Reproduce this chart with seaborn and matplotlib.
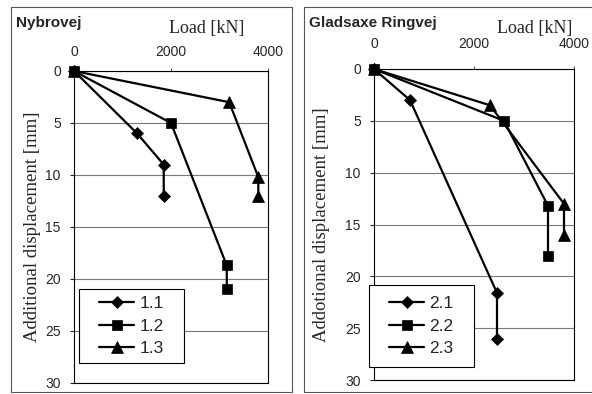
import matplotlib
matplotlib.use("Agg")
import matplotlib.pyplot as plt
import seaborn as sns
from matplotlib.patches import Rectangle

# ---- data ----
nyb_names = ["1.1", "1.2", "1.3"]
nyb_load = [[0, 1300, 1850, 1850],
            [0, 2000, 3150, 3150],
            [0, 3200, 3800, 3800]]
nyb_disp = [[0, 6, 9, 12],
            [0, 5, 18.7, 21],
            [0, 3, 10.2, 12]]

glad_names = ["2.1", "2.2", "2.3"]
glad_load = [[0, 720, 2460, 2460],
             [0, 2600, 3480, 3480],
             [0, 2320, 3800, 3800]]
glad_disp = [[0, 3, 21.6, 26],
             [0, 5, 13.2, 18],
             [0, 3.5, 13, 16]]

x_ticks = [0, 2000, 4000]
y_ticks = [0, 5, 10, 15, 20, 25, 30]

# ---- style ----
sns.set_style("white")
plt.rcParams["font.family"] = ["Liberation Sans", "DejaVu Sans"]
SERIF = ["Liberation Serif", "DejaVu Serif"]

W, H = 592, 394
fig = plt.figure(figsize=(W / 100, H / 100), dpi=100)


def fx(px):
    return px / W


def fy(py):
    return 1 - py / H


markers = ["D", "s", "^"]
msizes = [6.5, 7.5, 8]


def panel(l, r, t, b, names, loads, disps, xpad, leg_box):
    ax = fig.add_axes([fx(l), fy(b), fx(r) - fx(l), fy(t) - fy(b)])
    for name, xs, ys, m, ms in zip(names, loads, disps, markers, msizes):
        sns.lineplot(x=xs, y=ys, sort=False, estimator=None, marker=m,
                     markersize=ms, color="black", linewidth=1.6,
                     markeredgecolor="black", markeredgewidth=0.5,
                     label=name, ax=ax, zorder=3, clip_on=False)
    ax.set_xlim(0, 4000)
    ax.set_ylim(30, 0)
    ax.xaxis.tick_top()
    ax.set_xticks(x_ticks)
    ax.set_yticks(y_ticks)
    ax.set_xlabel("")
    ax.set_ylabel("")
    ax.yaxis.grid(True, color="#7a7a7a", linewidth=0.8)
    ax.xaxis.grid(False)
    for s in ax.spines.values():
        s.set_color("black")
        s.set_linewidth(0.8)
    ax.tick_params(axis="x", top=True, bottom=False, direction="out",
                   length=2.5, width=0.6, pad=xpad, labelsize=10)
    ax.tick_params(axis="y", left=True, direction="out", length=3,
                   width=0.8, pad=6.5, labelsize=10)
    # legend with manual frame
    bx0, by0, bx1, by1 = leg_box
    rect = Rectangle((fx(bx0), fy(by1)), fx(bx1) - fx(bx0), fy(by0) - fy(by1),
                     transform=fig.transFigure, facecolor="white",
                     edgecolor="black", linewidth=0.8, zorder=4, clip_on=False)
    ax.add_patch(rect)
    handles, labels = ax.get_legend_handles_labels()
    leg = ax.legend(handles, labels, loc="center",
                    bbox_to_anchor=(fx((bx0 + bx1) / 2), fy((by0 + by1) / 2)),
                    bbox_transform=fig.transFigure, frameon=False,
                    fontsize=12.5, handlelength=2.0, handletextpad=0.3,
                    labelspacing=0.4, borderpad=0.2)
    leg.set_zorder(5)
    return ax


panel(74, 268, 71, 383, nyb_names, nyb_load, nyb_disp, 6.5, (79, 289, 184, 363))
panel(374, 574, 69, 380, glad_names, glad_load, glad_disp, 10.5, (369, 285, 474, 367))

# panel frames
fig.add_artist(Rectangle((fx(11), fy(392)), fx(292) - fx(11), fy(7) - fy(392),
                         transform=fig.transFigure, fill=False,
                         edgecolor="#555555", linewidth=0.8))
fig.add_artist(Rectangle((fx(304), fy(392)), fx(600) - fx(304), fy(7) - fy(392),
                         transform=fig.transFigure, fill=False,
                         edgecolor="#555555", linewidth=0.8))

# texts
fig.text(fx(16), fy(22.5), "Nybrovej", fontweight="bold", fontsize=11,
         ha="left", va="center")
fig.text(fx(207), fy(29), "Load [kN]", family=SERIF, fontsize=13,
         ha="center", va="center")
fig.text(fx(33), fy(227), "Additional displacement [mm]", family=SERIF,
         fontsize=13.5, rotation=90, ha="center", va="center")

fig.text(fx(309), fy(22.5), "Gladsaxe Ringvej", fontweight="bold", fontsize=11,
         ha="left", va="center")
fig.text(fx(535), fy(29), "Load [kN]", family=SERIF, fontsize=13,
         ha="center", va="center")
fig.text(fx(321), fy(225), "Addotional displacement [mm]", family=SERIF,
         fontsize=13.5, rotation=90, ha="center", va="center")

fig.savefig("out.png", dpi=100)
